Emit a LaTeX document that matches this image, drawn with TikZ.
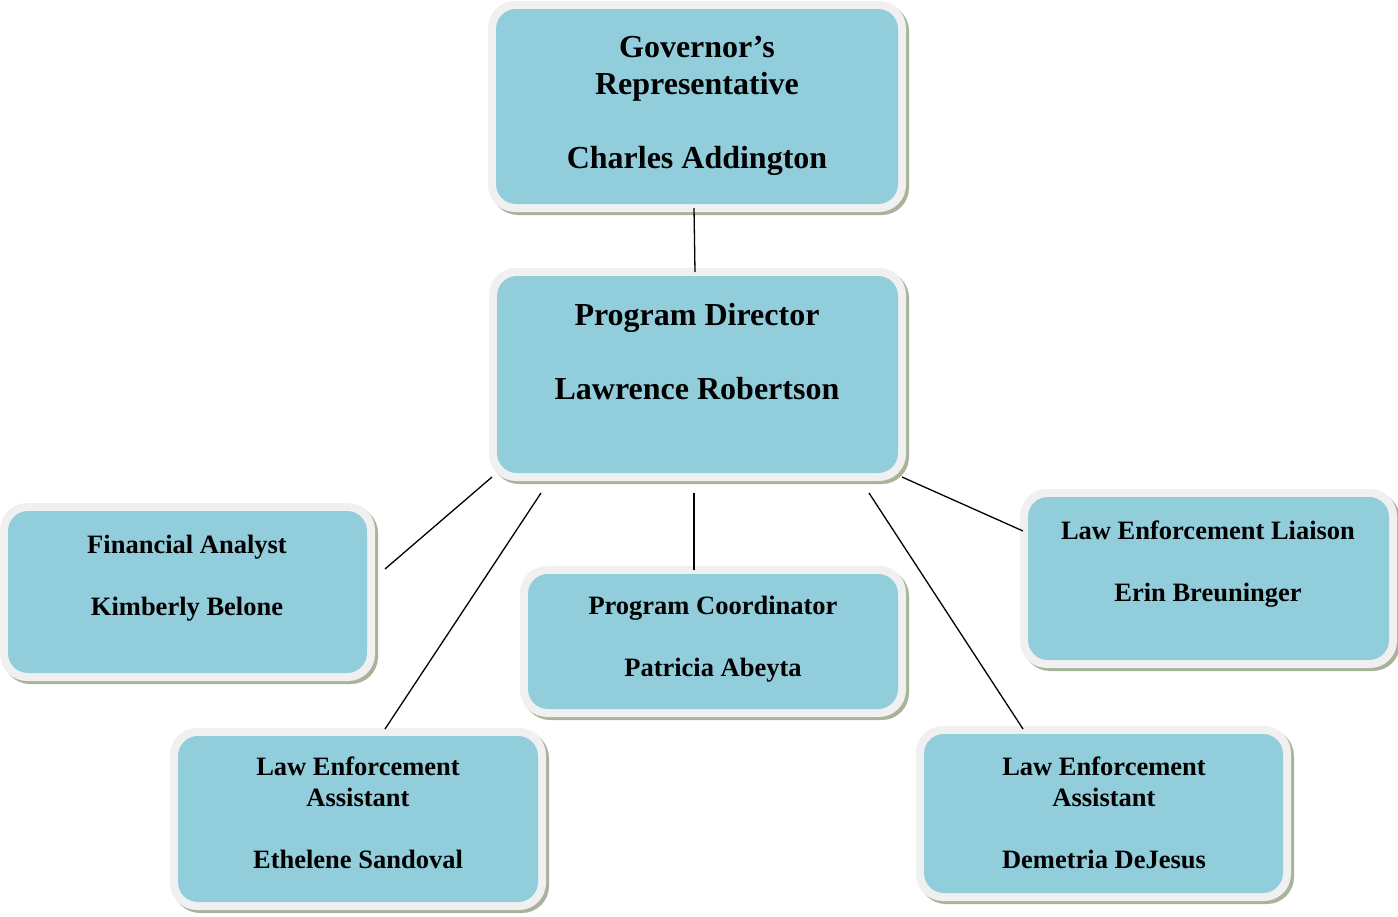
\documentclass[tikz,border=0pt]{standalone}
\usepackage{fontspec}
\setmainfont{Liberation Serif}
\usetikzlibrary{fit}
\definecolor{boxblue}{HTML}{92CDDC}
\definecolor{rimc}{HTML}{F0F0F0}
\definecolor{shadowc}{HTML}{A9B39A}
\newcommand\bigtxt{\fontsize{32}{37}\selectfont\bfseries}
\newcommand\smalltxt{\fontsize{26.5}{31}\selectfont\bfseries}
\tikzset{
  bluebox/.style={fill=boxblue, rounded corners=20pt, inner sep=0pt, draw=none},
  rimbox/.style={fill=rimc, rounded corners=27pt},
  shadowbox/.style={fill=shadowc, rounded corners=27pt},
  bigtext/.style={anchor=base, align=center, font=\bigtxt, inner sep=0pt},
  smalltext/.style={anchor=base, align=center, font=\smalltxt, inner sep=0pt},
  link/.style={draw=black, line width=1.3pt}
}
% #1 name, #2 x1, #3 y1, #4 x2, #5 y2 (outer rim)
\newcommand\orgbox[5]{%
  \fill[shadowbox] (#2+3,#3+3) rectangle (#4+3,#5+3);
  \fill[rimbox] (#2,#3) rectangle (#4,#5);
  \node[bluebox, fit={(#2+8,#3+8) (#4-8,#5-8)}] (#1) {};
}
\begin{document}
\begin{tikzpicture}[x=1pt,y=-1pt]
\fill[white] (0,0) rectangle (1398,916);
\useasboundingbox (0,0) rectangle (1398,916);

\orgbox{gov}{488}{1}{906}{212}
\orgbox{pd}{489}{268}{906}{481}
\orgbox{fa}{0}{503}{375}{681}
\orgbox{pc}{520}{566}{906}{717}
\orgbox{lia}{1020}{489}{1397}{668}
\orgbox{las}{170}{728}{546}{910}
\orgbox{lad}{916}{726}{1291}{901}

% anchor=base of a multi-line node is the baseline of its last line
\node[bigtext] (govt) at (697,168) {Governor’s\\Representative\\[37pt]Charles Addington};
\node[bigtext] (pdt) at (697,399) {Program Director\\[37pt]Lawrence Robertson};
\node[smalltext] (fat) at (187,615) {Financial Analyst\\[31pt]Kimberly Belone};
\node[smalltext] (pct) at (713,676) {Program Coordinator\\[31pt]Patricia Abeyta};
\node[smalltext] (liat) at (1208,601) {Law Enforcement Liaison\\[31pt]Erin Breuninger};
\node[smalltext] (last) at (358,868) {Law Enforcement\\Assistant\\[31pt]Ethelene Sandoval};
\node[smalltext] (ladt) at (1104,868) {Law Enforcement\\Assistant\\[31pt]Demetria DeJesus};

\coordinate (g1) at (694,208);
\coordinate (p1) at (695,272);
\coordinate (p2) at (492,477);
\coordinate (f1) at (385,569);
\coordinate (p3) at (541,493);
\coordinate (s1) at (385,729);
\coordinate (p4) at (694,493);
\coordinate (c1) at (694,570);
\coordinate (p5) at (869,493);
\coordinate (d1) at (1023,729);
\coordinate (p6) at (902,477);
\coordinate (l1) at (1023,531);

\draw[link] (g1) -- (p1);
\draw[link] (p2) -- (f1);
\draw[link] (p3) -- (s1);
\draw[link] (p4) -- (c1);
\draw[link] (p5) -- (d1);
\draw[link] (p6) -- (l1);
\end{tikzpicture}
\end{document}
